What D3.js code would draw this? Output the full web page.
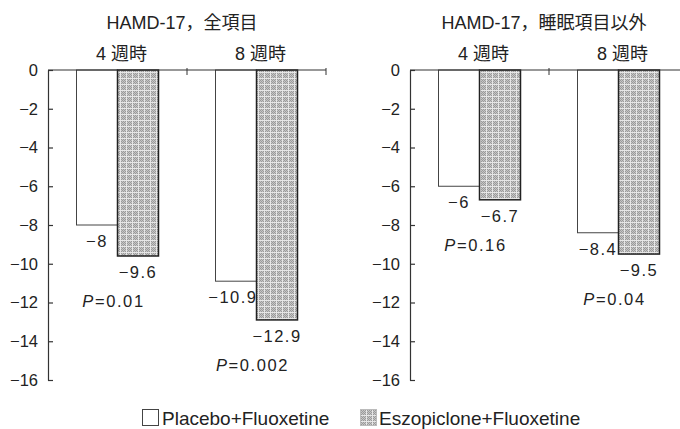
<!DOCTYPE html>
<html>
<head>
<meta charset="utf-8">
<script src="https://cdnjs.cloudflare.com/ajax/libs/d3/7.8.5/d3.min.js"></script>
<style>
  body { margin: 0; background: #fff; }
  svg { display: block; font-family: "Liberation Sans", Arial, "Noto Sans CJK JP", sans-serif; }
</style>
</head>
<body>
<div id="chart"></div>
<script>
// data
var weeks = ["4 週時", "8 週時"];
var series = ["Placebo+Fluoxetine", "Eszopiclone+Fluoxetine"];
var panelTitles = ["HAMD-17，全項目", "HAMD-17，睡眠項目以外"];
var placeboAll = [-8, -10.9];
var eszoAll = [-9.6, -12.9];
var placeboNoSleep = [-6, -8.4];
var eszoNoSleep = [-6.7, -9.5];
var pAll = ["0.01", "0.002"];
var pNoSleep = ["0.16", "0.04"];
var yTicks = [0, -2, -4, -6, -8, -10, -12, -14, -16];

var panels = [
    { title: panelTitles[0], left: 48, right: 326, values: [placeboAll, eszoAll], p: pAll },
    { title: panelTitles[1], left: 410, right: 688, values: [placeboNoSleep, eszoNoSleep], p: pNoSleep }
];

var width = 680,
    height = 429;

var svg = d3.select("#chart").append("svg")
    .attr("width", width)
    .attr("height", height);

// dotted grey fill like the printed screen tone
var pat = svg.append("defs").append("pattern")
    .attr("id", "tone")
    .attr("patternUnits", "userSpaceOnUse")
    .attr("width", 6)
    .attr("height", 6);
pat.append("rect").attr("width", 6).attr("height", 6).attr("fill", "#c6c6c6");
for (var i = 1; i < 6; i++) {
    for (var j = 1; j < 6; j++) {
        if ((i + j) % 2 === 0) {
            pat.append("rect").attr("x", i).attr("y", j).attr("width", 1).attr("height", 1).attr("fill", "#9a9a9a");
        }
    }
}
pat.append("rect").attr("width", 6).attr("height", 1).attr("fill", "#e6e6e6");
pat.append("rect").attr("width", 1).attr("height", 6).attr("fill", "#e6e6e6");

var fillOf = ["#fff", "url(#tone)"];
var fmt = d3.format("");

var y = d3.scaleLinear()
    .domain([0, -16])
    .range([70, 380]);

panels.forEach(function (p) {
    var x0 = d3.scaleBand()
        .domain(weeks)
        .range([p.left, p.right]);

    var bw = x0.bandwidth();
    var x1 = d3.scaleBand()
        .domain(series)
        .range([bw / 2 - 41, bw / 2 + 41]);

    var g = svg.append("g");

    // titles
    g.append("text")
        .attr("x", (p.left + p.right) / 2 - 5)
        .attr("y", 29)
        .attr("text-anchor", "middle")
        .attr("font-size", 18)
        .attr("fill", "#222")
        .text(p.title);

    g.selectAll(".wk")
        .data(weeks)
        .enter().append("text")
        .attr("x", function (d) { return x0(d) + bw / 2 + 4; })
        .attr("y", 60)
        .attr("text-anchor", "middle")
        .attr("font-size", 18)
        .attr("fill", "#222")
        .text(function (d) { return d; });

    // bars
    var rows = [];
    weeks.forEach(function (w, wi) {
        series.forEach(function (s, si) {
            rows.push({ week: w, s: s, si: si, v: p.values[si][wi] });
        });
    });

    g.selectAll(".bar")
        .data(rows)
        .enter().append("rect")
        .attr("x", function (d) { return x0(d.week) + x1(d.s); })
        .attr("y", y(0))
        .attr("width", x1.bandwidth())
        .attr("height", function (d) { return y(d.v) - y(0); })
        .attr("fill", function (d) { return fillOf[d.si]; })
        .attr("stroke", function (d) { return d.si ? "#222" : "#444"; })
        .attr("stroke-width", function (d) { return d.si ? 1.5 : 1; });

    // value labels, placebo ones kept clear of the neighbouring bar
    g.selectAll(".val")
        .data(rows)
        .enter().append("text")
        .attr("y", function (d) { return y(d.v) + 22; })
        .attr("text-anchor", "middle")
        .attr("font-size", 16.5)
        .attr("letter-spacing", 1.5)
        .attr("fill", "#222")
        .text(function (d) { return fmt(d.v); })
        .attr("x", function (d) {
            var bx = x0(d.week) + x1(d.s),
                cx = bx + x1.bandwidth() / 2;
            if (d.si === 0) {
                var w = this.getComputedTextLength();
                cx = Math.min(cx, bx + x1.bandwidth() - w / 2 + 1);
            }
            return cx;
        });

    // P values
    var pt = g.selectAll(".pv")
        .data(weeks)
        .enter().append("text")
        .attr("x", function (d) { return x0(d) + bw / 2 - 4; })
        .attr("y", function (d, i) { return y(d3.min(p.values, function (v) { return v[i]; })) + 51; })
        .attr("text-anchor", "middle")
        .attr("font-size", 16.5)
        .attr("letter-spacing", 1.6)
        .attr("fill", "#222");
    pt.append("tspan").attr("font-style", "italic").text("P");
    pt.append("tspan").text(function (d, i) { return "=" + p.p[i]; });

    // y axis
    var ax = g.append("g")
        .attr("transform", "translate(" + p.left + ",0)")
        .call(d3.axisLeft(y).tickValues(yTicks).tickSizeInner(-5).tickSizeOuter(0).tickPadding(10));
    ax.selectAll("text").attr("font-size", 16.5).attr("fill", "#222")
        .attr("font-family", "'Liberation Sans', Arial, sans-serif");
    ax.selectAll("line, path").attr("stroke", "#333").attr("stroke-width", 1.2);

    // top baseline with separator ticks
    g.append("line")
        .attr("x1", p.left).attr("x2", p.right)
        .attr("y1", y(0)).attr("y2", y(0))
        .attr("stroke", "#333").attr("stroke-width", 1.2);
    g.selectAll(".sep")
        .data(weeks)
        .enter().append("line")
        .attr("x1", function (d) { return x0(d) + bw; })
        .attr("x2", function (d) { return x0(d) + bw; })
        .attr("y1", y(0) - 2)
        .attr("y2", y(0) + 5)
        .attr("stroke", "#333");
});

// legend
var legX = [142, 360];
var leg = svg.append("g")
    .selectAll("g")
    .data(series)
    .enter().append("g")
    .attr("transform", function (d, i) { return "translate(" + legX[i] + ",409)"; });

leg.append("rect")
    .attr("x", 0.5).attr("y", 0.5)
    .attr("width", 16).attr("height", 16)
    .attr("fill", function (d, i) { return fillOf[i]; })
    .attr("stroke", function (d, i) { return i ? "#bbb" : "#444"; })
    .attr("stroke-width", 1);

leg.append("text")
    .attr("x", function (d, i) { return i ? 19 : 20; })
    .attr("y", 16)
    .attr("font-size", 19)
    .attr("fill", "#222")
    .text(function (d) { return d; });
</script>
</body>
</html>
